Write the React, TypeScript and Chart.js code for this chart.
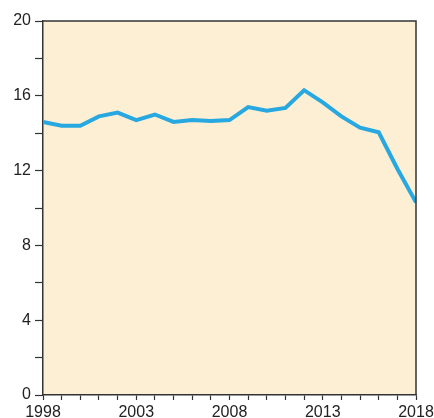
import React, { useEffect, useRef } from "react";
import { Chart, registerables } from "chart.js";

Chart.register(...registerables);

const years = [1998, 1999, 2000, 2001, 2002, 2003, 2004, 2005, 2006, 2007, 2008, 2009, 2010, 2011, 2012, 2013, 2014, 2015, 2016, 2017, 2018];
const values = [14.6, 14.4, 14.4, 14.9, 15.1, 14.7, 15.0, 14.6, 14.7, 14.65, 14.7, 15.4, 15.2, 15.35, 16.3, 15.65, 14.9, 14.3, 14.05, 12.1, 10.3];
const xTickLabels = [1998, 2003, 2008, 2013, 2018];
const yTickLabels = [0, 4, 8, 12, 16, 20];

const FONT = "'Liberation Sans', Arial, Helvetica, sans-serif";

export default function App() {
  const ref = useRef<HTMLCanvasElement | null>(null);

  useEffect(() => {
    document.body.style.margin = "0";
    const canvas = ref.current;
    if (!canvas) return;
    const bgPlugin = {
      id: "bgPlugin",
      beforeDraw(chart: any) {
        const { ctx, chartArea } = chart;
        ctx.save();
        ctx.fillStyle = "#fdefd4";
        ctx.fillRect(chartArea.left, chartArea.top, chartArea.right - chartArea.left, chartArea.bottom - chartArea.top);
        ctx.restore();
      },
      afterDraw(chart: any) {
        const { ctx, chartArea } = chart;
        ctx.save();
        ctx.strokeStyle = "#333333";
        ctx.lineWidth = 1.5;
        ctx.beginPath();
        ctx.moveTo(chartArea.left, chartArea.top);
        ctx.lineTo(chartArea.right, chartArea.top);
        ctx.lineTo(chartArea.right, chartArea.bottom);
        ctx.stroke();
        ctx.restore();
      },
    };
    const chart = new Chart(canvas, {
      type: "line",
      data: {
        datasets: [
          {
            data: years.map((y, i) => ({ x: y, y: values[i] })),
            borderColor: "#27a8e0",
            borderWidth: 4,
            pointRadius: 0,
            tension: 0,
            fill: false,
            borderJoinStyle: "miter",
          },
        ],
      },
      options: {
        animation: false,
        responsive: false,
        maintainAspectRatio: false,
        layout: { padding: { top: 21, right: 18, left: 0, bottom: 0 } },
        plugins: { legend: { display: false }, tooltip: { enabled: false }, title: { display: false } },
        scales: {
          x: {
            type: "linear",
            min: 1998,
            max: 2018,
            afterFit: (s: any) => {
              s.height = 23;
              s.paddingRight = 0;
              s.paddingLeft = 0;
            },
            afterBuildTicks: (s: any) => {
              s.ticks = years.map((v) => ({ value: v }));
            },
            ticks: {
              autoSkip: false,
              maxRotation: 0,
              padding: 3,
              color: "#222",
              font: { family: FONT, size: 16 },
              callback: (v: any) => (xTickLabels.includes(Number(v)) ? String(v) : ""),
            },
            grid: { drawOnChartArea: false, drawTicks: true, tickLength: 5, tickColor: "#333", tickWidth: 1.2 },
            border: { display: true, color: "#333", width: 1.5 },
          },
          y: {
            min: 0,
            max: 20,
            afterFit: (s: any) => {
              s.width = 43;
              s.paddingTop = 0;
              s.paddingBottom = 0;
            },
            ticks: {
              stepSize: 2,
              padding: 4,
              color: "#222",
              font: { family: FONT, size: 16 },
              callback: (v: any) => (yTickLabels.includes(Number(v)) ? String(v) : ""),
            },
            grid: { drawOnChartArea: false, drawTicks: true, tickLength: 8, tickColor: "#333", tickWidth: 1.2 },
            border: { display: true, color: "#333", width: 1.5 },
          },
        },
      },
      plugins: [bgPlugin],
    } as any);
    return () => chart.destroy();
  }, []);

  return (
    <div style={{ width: 434, height: 418 }}>
      <canvas ref={ref} width={434} height={418} style={{ display: "block" }} />
    </div>
  );
}
